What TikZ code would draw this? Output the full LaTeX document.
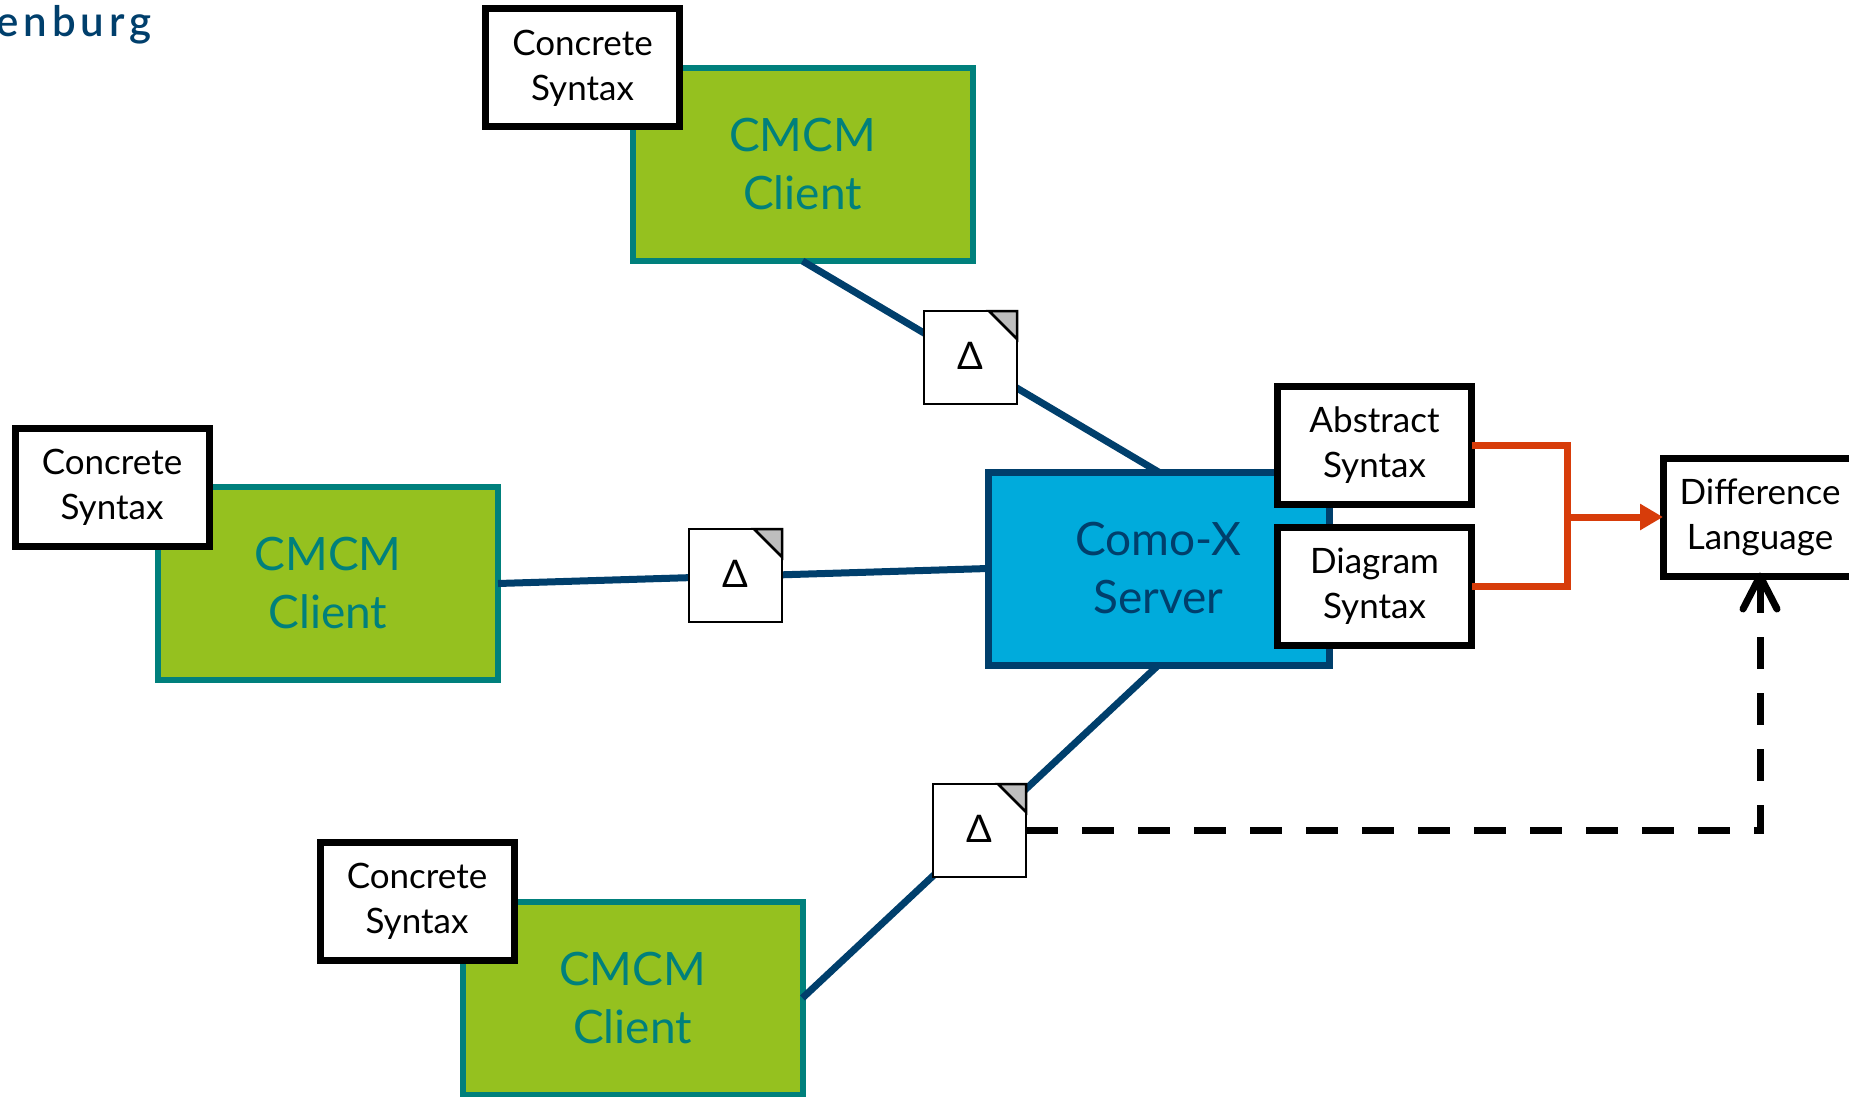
\documentclass[tikz,border=0pt]{standalone}
\usepackage{fontspec}
\setmainfont{Lato}
\newfontfamily\logofont[LetterSpace=12]{Lato Semibold}
\usetikzlibrary{arrows.meta,calc}
\definecolor{cteal}{HTML}{00807C}
\definecolor{cgreen}{HTML}{95C11F}
\definecolor{cblue}{HTML}{00ABDC}
\definecolor{cnavy}{HTML}{003F6C}
\definecolor{corange}{HTML}{D73C0A}
\definecolor{cgray}{HTML}{BEBEBE}
\tikzset{
 client/.style={draw=cteal,fill=cgreen,line width=6pt,minimum width=340pt,minimum height=193pt,align=center,text=cteal,outer sep=0pt,inner sep=0pt,font=\fontsize{46}{58}\selectfont},
 server/.style={draw=cnavy,fill=cblue,line width=7pt,minimum width=341pt,minimum height=193pt,align=center,text=cnavy,outer sep=0pt,inner sep=0pt,font=\fontsize{46}{58}\selectfont},
 syntaxbox/.style={draw=black,fill=white,line width=7pt,minimum width=194pt,minimum height=118pt,align=center,outer sep=0pt,inner sep=0pt,font=\fontsize{35}{45}\selectfont},
 deltadoc/.style={draw=black,fill=white,line width=2.5pt,minimum width=93pt,minimum height=93pt,outer sep=0pt,inner sep=0pt,font=\fontsize{38}{45}\selectfont},
 corner/.style={draw=black,fill=cgray,line width=2.5pt,line join=miter},
 link/.style={draw=cnavy,line width=7pt},
 merge/.style={draw=corange,line width=7pt},
 dashlink/.style={draw=black,line width=7pt,dash pattern=on 32pt off 24pt}
}
\begin{document}
\begin{tikzpicture}[x=1pt,y=-1pt]
\useasboundingbox[fill=white] (0,0) rectangle (1849,1097);
\node[anchor=base east,text=cnavy,inner sep=0pt,font=\logofont\fontsize{42}{42}\selectfont] (logo) at (152,37) {enburg};
\node[client] (c1) at (802.5,164.5) {CMCM\\Client};
\node[client] (c2) at (328,583.5) {CMCM\\Client};
\node[client] (c3) at (632.5,998) {CMCM\\Client};
\node[server] (srv) at (1158.5,568.5) {Como-X\\Server};
\node[deltadoc] (d1) at (970.5,357.5) {};
\node[deltadoc] (d2) at (735.5,575.5) {};
\node[deltadoc] (d3) at (979.5,830.5) {};
\draw[link] (c1.south) -- (srv.north);
\draw[link] (c2.east) -- (srv.west);
\draw[link] (c3.east) -- (srv.south);
\node[syntaxbox] (cs1) at (582.5,68) {Concrete\\Syntax};
\node[syntaxbox] (cs2) at (112,487.5) {Concrete\\Syntax};
\node[syntaxbox] (cs3) at (417,901.5) {Concrete\\Syntax};
\node[syntaxbox] (abs) at (1374.5,445.5) {Abstract\\Syntax};
\node[syntaxbox] (dia) at (1374.5,586.5) {Diagram\\Syntax};
\node[syntaxbox] (diff) at (1760,517) {Difference\\Language};
\foreach \d in {d1,d2,d3}{
 \node[deltadoc] (\d) at (\d.center) {$\vphantom{x}$\raisebox{3pt}{Δ}};
 \draw[corner] ($(\d.north east)+(-28,0)$) -- (\d.north east) -- ($(\d.north east)+(0,28)$) -- cycle;
}
\coordinate (bus) at (1567,517);
\draw[merge,line join=miter] (abs.east) -| (bus) |- (dia.east);
\draw[merge,-{Triangle[length=23pt,width=25pt]}] (bus) -- (diff.west);
\draw[dashlink] (d3.east) -| (diff.south);
\draw[line width=7pt,line cap=round,line join=round] ($(diff.south)+(-17,33)$) -- (diff.south) -- ($(diff.south)+(17,33)$);
\draw[line width=7pt] (diff.south) -- ($(diff.south)+(0,32)$);
\end{tikzpicture}
\end{document}
